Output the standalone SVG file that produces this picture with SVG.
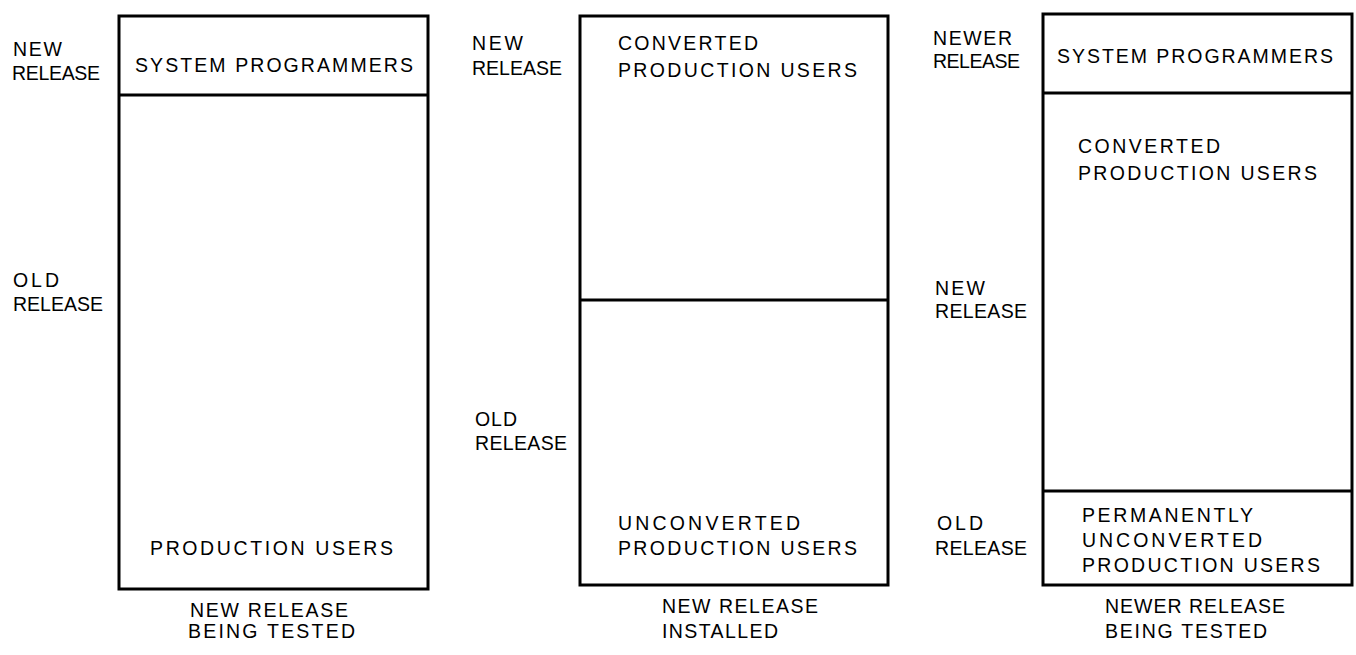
<svg xmlns="http://www.w3.org/2000/svg" width="1356" height="655" viewBox="0 0 1356 655">
<style>
.box{fill:none;stroke:#000;stroke-width:3}
.div{stroke:#000;stroke-width:3}
text{font-family:"Liberation Sans","DejaVu Sans",sans-serif;font-size:19.5px;fill:#000}
</style>
<rect width="1356" height="655" fill="#fff"/>
<g id="stage1">
<rect class="box" x="119" y="16" width="309" height="573"/>
<line class="div" x1="119" y1="95" x2="428" y2="95"/>
<text x="13" y="56" textLength="49" lengthAdjust="spacing">NEW</text>
<text x="12" y="80" textLength="88" lengthAdjust="spacing">RELEASE</text>
<text x="135" y="72" textLength="278" lengthAdjust="spacing">SYSTEM PROGRAMMERS</text>
<text x="13" y="287" textLength="46" lengthAdjust="spacing">OLD</text>
<text x="13" y="311" textLength="90" lengthAdjust="spacing">RELEASE</text>
<text x="150" y="555" textLength="243" lengthAdjust="spacing">PRODUCTION USERS</text>
<text x="190" y="617" textLength="158" lengthAdjust="spacing">NEW RELEASE</text>
<text x="188" y="638" textLength="167" lengthAdjust="spacing">BEING TESTED</text>
</g>
<g id="stage2">
<rect class="box" x="580" y="16" width="308" height="569"/>
<line class="div" x1="580" y1="300" x2="888" y2="300"/>
<text x="472" y="50" textLength="51" lengthAdjust="spacing">NEW</text>
<text x="472" y="75" textLength="90" lengthAdjust="spacing">RELEASE</text>
<text x="618" y="50" textLength="140" lengthAdjust="spacing">CONVERTED</text>
<text x="618" y="77" textLength="239" lengthAdjust="spacing">PRODUCTION USERS</text>
<text x="475" y="426" textLength="42" lengthAdjust="spacing">OLD</text>
<text x="475" y="450" textLength="92" lengthAdjust="spacing">RELEASE</text>
<text x="618" y="530" textLength="182" lengthAdjust="spacing">UNCONVERTED</text>
<text x="618" y="555" textLength="239" lengthAdjust="spacing">PRODUCTION USERS</text>
<text x="662" y="613" textLength="156" lengthAdjust="spacing">NEW RELEASE</text>
<text x="662" y="638" textLength="116" lengthAdjust="spacing">INSTALLED</text>
</g>
<g id="stage3">
<rect class="box" x="1043" y="14" width="309" height="571"/>
<line class="div" x1="1043" y1="93" x2="1352" y2="93"/>
<line class="div" x1="1043" y1="491" x2="1352" y2="491"/>
<text x="933" y="45" textLength="79" lengthAdjust="spacing">NEWER</text>
<text x="933" y="68" textLength="87" lengthAdjust="spacing">RELEASE</text>
<text x="1057" y="63" textLength="276" lengthAdjust="spacing">SYSTEM PROGRAMMERS</text>
<text x="1078" y="153" textLength="142" lengthAdjust="spacing">CONVERTED</text>
<text x="1078" y="180" textLength="239" lengthAdjust="spacing">PRODUCTION USERS</text>
<text x="935" y="295" textLength="50" lengthAdjust="spacing">NEW</text>
<text x="935" y="318" textLength="92" lengthAdjust="spacing">RELEASE</text>
<text x="937" y="530" textLength="46" lengthAdjust="spacing">OLD</text>
<text x="935" y="555" textLength="92" lengthAdjust="spacing">RELEASE</text>
<text x="1082" y="522" textLength="171" lengthAdjust="spacing">PERMANENTLY</text>
<text x="1082" y="547" textLength="180" lengthAdjust="spacing">UNCONVERTED</text>
<text x="1082" y="572" textLength="238" lengthAdjust="spacing">PRODUCTION USERS</text>
<text x="1105" y="613" textLength="180" lengthAdjust="spacing">NEWER RELEASE</text>
<text x="1105" y="638" textLength="162" lengthAdjust="spacing">BEING TESTED</text>
</g>
</svg>
